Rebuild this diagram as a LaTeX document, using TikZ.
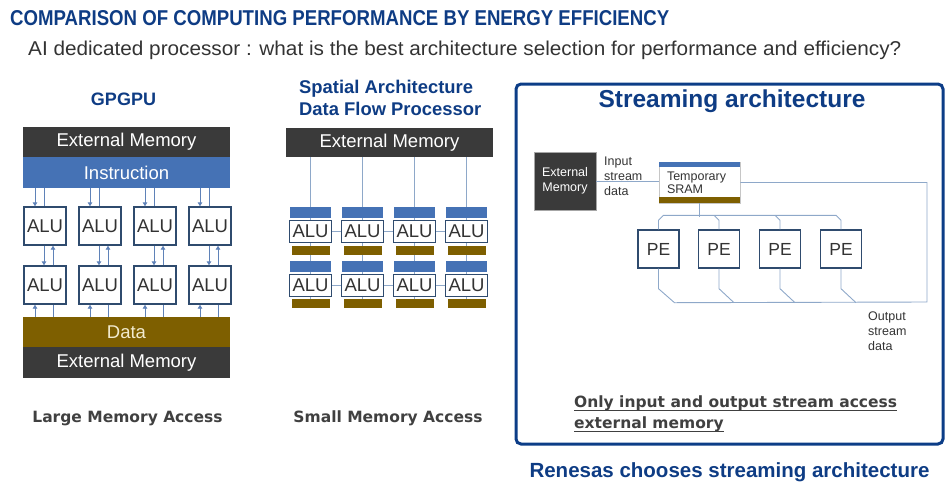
\documentclass[tikz,border=0pt]{standalone}
\usepackage{fontspec}
\setmainfont{Liberation Sans}
\newfontfamily\vfont{DejaVu Sans}
\usetikzlibrary{arrows.meta,calc,backgrounds}
\definecolor{tblue}{HTML}{0E3C84}
\definecolor{dbox}{HTML}{3A3A3A}
\definecolor{iblue}{HTML}{4572B5}
\definecolor{dbrown}{HTML}{7E5F00}
\definecolor{abord}{HTML}{2F4B6E}
\definecolor{lnc}{HTML}{8EA8C9}
\definecolor{acol}{HTML}{5F82B8}
\definecolor{tgray}{HTML}{333333}
\definecolor{bgray}{HTML}{404040}
\definecolor{fblue}{HTML}{0C3D87}
\definecolor{cream}{HTML}{F2EBCF}
\newcommand\myfs[1]{\fontsize{#1}{#1}\selectfont}
\begin{document}
\begin{tikzpicture}[x=1pt,y=-1pt,
  band/.style={fill=dbox, text=white, minimum width=207pt, inner sep=0pt, font=\myfs{18.5}},
  alu/.style={draw=abord, line width=1.4pt, fill=white, text=tgray, inner sep=0pt, font=\myfs{18.5}},
  bar/.style={fill=iblue, inner sep=0pt, minimum width=41pt, minimum height=11pt},
  brbar/.style={fill=dbrown, inner sep=0pt, minimum width=38pt, minimum height=9pt},
  ln/.style={draw=lnc, line width=0.9pt},
  arr/.style={draw=acol, line width=0.9pt, -{Triangle[length=4pt,width=4.5pt]}},
  hdr/.style={text=tblue, font=\bfseries\myfs{18}, inner sep=0pt},
  vb/.style={text=bgray, font=\vfont\bfseries\fontsize{15.5}{18}\selectfont, inner sep=0pt},
  small/.style={text=tgray, font=\fontsize{12.5}{15}\selectfont, inner sep=0pt, align=left}
]
\useasboundingbox (0,0) rectangle (952,493);

% titles
\node[anchor=base west, inner sep=0pt, text=tblue] (t1) at (10,25)
  {\resizebox{659pt}{15pt}{\bfseries COMPARISON OF COMPUTING PERFORMANCE BY ENERGY EFFICIENCY}};
\node[anchor=base west, inner sep=0pt, text=tgray] (t2) at (28,55)
  {\resizebox{873pt}{14.5pt}{AI dedicated processor : what is the best architecture selection for performance and efficiency?}};

% ---------------- GPGPU
\node[hdr, anchor=base] (gt) at (123.5,105) {GPGPU};
\node[band, minimum height=30pt] (gem1) at (126.5,142) {External Memory};
\node[band, fill=iblue, text=white, minimum height=31pt] (ginst) at (126.5,172.5) {Instruction};
\node[band, fill=dbrown, text=cream, minimum height=30pt] (gdata) at (126.5,332) {Data};
\node[band, minimum height=31pt] (gem2) at (126.5,362.5) {External Memory};
\foreach \i/\x in {1/45,2/100,3/155,4/210}{
  \node[alu, minimum width=42pt, minimum height=38pt] (ga\i) at (\x,226) {ALU};
  \node[alu, minimum width=42pt, minimum height=38pt] (gb\i) at (\x,285) {ALU};
  \draw[arr] ([xshift=-10pt]ga\i.north |- ginst.south) -- ([xshift=-10pt]ga\i.north);
  \draw[ln,draw=acol] ([xshift=-1pt]ga\i.north |- ginst.south) -- ([xshift=-1pt]ga\i.north);
  \draw[arr] ([xshift=-1pt]ga\i.south) -- ([xshift=-1pt]gb\i.north);
  \draw[arr] ([xshift=8pt]gb\i.north) -- ([xshift=8pt]ga\i.south);
  \draw[arr] ([xshift=-10pt]gb\i.south |- gdata.north) -- ([xshift=-10pt]gb\i.south);
  \draw[ln,draw=acol] ([xshift=8pt]gb\i.south |- gdata.north) -- ([xshift=8pt]gb\i.south);
}
\node[vb, anchor=base] (lma) at (127.5,422) {Large Memory Access};

% ---------------- Spatial
\node[hdr, anchor=north west, align=left, font=\bfseries\fontsize{18.4}{22}\selectfont] (st) at (299,80) {Spatial Architecture\\Data Flow Processor};
\node[band, minimum height=29pt] (sem) at (389.5,142.5) {External Memory};
\foreach \i/\x in {1/310.5,2/362.5,3/414.5,4/466.5}{
  \node[bar] (su\i) at (\x,212.5) {};
  \node[alu, line width=1.6pt, minimum width=42pt, minimum height=22pt] (sa\i) at (\x,231.5) {ALU};
  \node[brbar] (sd\i) at (\x,250) {};
  \node[bar] (sv\i) at (\x,266.5) {};
  \node[alu, line width=1.6pt, minimum width=42pt, minimum height=22pt] (sb\i) at (\x,285.5) {ALU};
  \node[brbar] (se\i) at (\x,303.5) {};
}
\begin{scope}[on background layer]
\foreach \i in {1,2,3,4}{
  \draw[ln] (sem.south -| su\i.north) -- (se\i.center);
}
\end{scope}
\draw[ln] (sa1.east) -- (sa2.west) (sa2.east) -- (sa3.west) (sa3.east) -- (sa4.west);
\draw[ln] (sb1.east) -- (sb2.west) (sb2.east) -- (sb3.west) (sb3.east) -- (sb4.west);
\node[vb, anchor=base] (sma) at (388,422) {Small Memory Access};

% ---------------- Streaming
\node[draw=fblue, line width=3pt, rounded corners=5pt, minimum width=427pt, minimum height=360pt, inner sep=0pt] (frame) at (729.5,264) {};
\node[hdr, anchor=base, font=\bfseries\myfs{24.5}] (strt) at (732,107) {Streaming architecture};
\node[fill=dbox, draw=gray!70, line width=0.6pt, text=white, minimum width=62pt, minimum height=58pt, inner sep=0pt, align=center, font=\fontsize{12.5}{15}\selectfont] (xem) at (565,181) {External\\Memory};
\node[draw=gray!45, line width=0.8pt, fill=white, text=tgray, minimum height=41pt, text width=65pt, inner xsep=8pt, inner ysep=0pt, align=left, font=\fontsize{12.5}{13}\selectfont] (sram) at (699.5,182.5) {Temporary\\SRAM};
\fill[iblue] (sram.north west) rectangle ($(sram.north east)+(0,5)$);
\fill[dbrown] ($(sram.south west)+(0,-6)$) rectangle (sram.south east);
\node[small, anchor=north west] (intx) at (604,156.5) {Input\\stream\\data};
\foreach \i/\x in {1/658.5,2/719,3/780,4/841}{
  \node[alu, minimum width=41pt, minimum height=38pt, font=\myfs{17.5}] (pe\i) at (\x,249) {PE};
}
\coordinate (rc) at (927,302);
\node[small, anchor=north west] (outx) at (868,311.5) {Output\\stream\\data};
\draw[ln] (xem.east) -- (xem.east -| sram.west);
\draw[ln] (sram.south) -- ++(0,14);
\draw[ln] (pe1.north) -- ++(0,-9) -- ++(5,-5) -- ($(pe4.north)+(-5,-14)$) -- ++(5,5) -- (pe4.north);
\draw[ln] (pe2.north) -- ++(0,-9) -- ++(-5,-5);
\draw[ln] (pe3.north) -- ++(0,-9) -- ++(-5,-5);
\draw[ln] (pe1.south) -- ++(0,20) -- ++(16,14) -- (rc) |- (sram.east);
\draw[ln] (pe2.south) -- ++(0,20) -- ++(15,14);
\draw[ln] (pe3.south) -- ++(0,20) -- ++(15,14);
\draw[ln] (pe4.south) -- ++(0,20) -- ++(15,14);
\node[vb, anchor=base west] (n1) at (574,407) {Only input and output stream access};
\node[vb, anchor=base west] (n2) at (574,428) {external memory};
\draw[bgray, line width=0.9pt] ([yshift=-3.5pt]n1.base west) -- ([yshift=-3.5pt]n1.base east);
\draw[bgray, line width=0.9pt] ([yshift=-3.5pt]n2.base west) -- ([yshift=-3.5pt]n2.base east);
\node[hdr, anchor=base, font=\bfseries\myfs{20.5}] (ren) at (729.5,477) {Renesas chooses streaming architecture};
\end{tikzpicture}
\end{document}
